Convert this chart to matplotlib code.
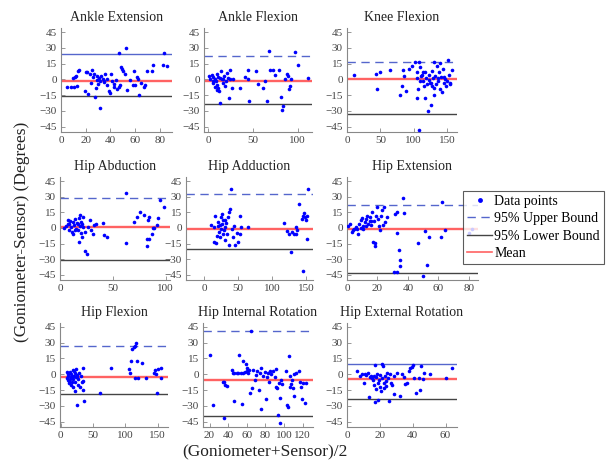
import matplotlib.pyplot as plt
from matplotlib.lines import Line2D

plt.rcParams['font.family'] = ['Liberation Serif', 'DejaVu Serif']

W, H = 611, 468

titles = ["Ankle Extension", "Ankle Flexion", "Knee Flexion",
          "Hip Abduction", "Hip Adduction", "Hip Extension",
          "Hip Flexion", "Hip Internal Rotation", "Hip External Rotation"]

# 95% upper bound, mean, 95% lower bound per panel
upper = [24.5, 22, 16.8, 28.5, 32.9, 22.2, 26.4, 41.3, 9.9]
mean = [-1, -1, 0.3, 1, -0.5, -0.6, -2.2, -5.9, -4.8]
lower = [-16, -23.2, -33, -30.4, -20.4, -43.1, -18.8, -39.4, -23.6]
upper_solid = [True, False, False, False, False, False, False, False, True]

ankle_ext_x = [5, 8, 10.5, 12.7, 10, 12, 13.7, 14.6, 11, 20, 21.3, 19.4, 21.8, 23.5, 25.3, 26.7,
               27.2, 28, 28.8, 29.4, 30.7, 31.5, 32, 32.6, 33.7, 34.8, 36, 37, 37.5, 38.8, 39.6,
               40.7, 41.5, 42.9, 44.2, 45, 46.9, 47.4, 48.2, 48.8, 49.6, 50.4, 51.5, 53.1, 53.6,
               55.8, 59, 60.4, 61.7, 62.3, 63, 67, 68.4, 69.8, 74.7, 73.9, 83.3, 82.7, 86,
               24, 26, 30, 35, 43, 58, 65]
ankle_ext_y = [-7, -7, -7, -6, 1.4, 3.6, 7.7, 8.7, 2, 6.8, 6.8, -11, -13.4, 5.5, 8.7, 5.5,
               -16.6, -8, 3.6, -0.2, 1.4, -27, -1.7, 3, 0, -1.7, 5.5, -5, 0, -11, -12.8,
               5.5, -1.7, -7, -0.8, -9, -7, 25.1, -5, 11.8, 10, 7.7, 5.5, 29.8, -9.6,
               -0.2, 7.7, -5, 2.3, 0.5, -14.4, -7, -5, 7.7, 14, 7.7, 25.1, 14, 12.5,
               -3, 2, -4, -2, -4, -5, -3]

ankle_flex_x = [1, 3.7, 5.6, 7.5, 8.6, 9.3, 10, 11.2, 12, 13, 13.8, 15, 16, 16.8, 17.5, 18.7,
                19.8, 20.5, 22, 23.5, 13, 24, 26, 24, 5.6, 7.5, 9.3, 11.2, 1.9, 4.9, 28, 35.4,
                41, 44.8, 45.9, 44.8, 53.4, 56, 61.6, 63.4, 65.3, 68.3, 69, 72.8, 74.6, 79.5,
                81, 82, 84, 85.8, 87.7, 89.6, 90.7, 91.4, 92.2, 97, 100.7, 112]
ankle_flex_y = [3.6, 4.6, 2.4, 0, -1.7, 5.5, -5, -8, -11, 1.4, 7.7, 0, -3.3, 0, 3.6, -6.5,
                -1.7, 6, 1.4, -17.5, -22.3, 0, -8, 8.7, -1.7, -7, -9.6, 2.3, 0.5, -3.3, 0, -8,
                2.3, 0, -20.7, 8.7, 7.7, -4, -8, -1.7, -20.7, 26.7, 8.7, 8.7, 4.6, 8.7,
                -16.6, -28.6, -24.8, 0.5, 5.5, 3.6, -9, -5.8, 0.5, 26, 14, 1.4]

knee_x = [10, 43.3, 44.3, 49.3, 64.4, 79.5, 82, 83.5, 85.5, 88.6, 93.7, 97.1, 102, 104.7, 105.7,
          107.2, 105.7, 108.7, 109.7, 109.7, 112.2, 113.7, 114.7, 115.7, 117.3, 118.8, 119.8,
          120.8, 122.3, 123.8, 125.8, 127.3, 128.8, 129.8, 129.8, 130.9, 132.4, 133.9, 134.9,
          135.9, 137.4, 138.9, 139.9, 140.9, 142.4, 143.9, 144.9, 145.9, 148.9, 151, 152.5,
          154, 155, 157.5, 108.7, 122.3, 127.3, 117.3, 111, 126, 136, 147, 150]
knee_y = [3.9, 5.2, -9.4, 7.1, 9.1, -14.9, -6.1, 9.1, 3.6, -11, 10, 13.3, 16.5, 1.3, 6.8,
          -9.4, -17.5, 16.5, -1.9, 11.7, 4.5, -1.3, 6.8, -6.1, -17.5, 1.3, -3.9,
          -30.4, 4.5, -2.9, -24.6, 8.4, 1.3, -14.9, -8.4, 16.5, 3.6, -3.9, 13.3,
          -1.3, 6.8, -9.4, 15.5, 1.9, -11.7, 10, -2.9, 2.6, -6.1, 18.8, 4.5,
          -2.9, -4.5, 9.1, -48.2, -0.6, -6.1, 6.8, 3, -3, 1, 0.5, -1]

hip_abd_x = [4, 5.7, 7.3, 8.3, 8.9, 10.5, 11.4, 12, 12.7, 13.7, 14.6, 15.2, 15.9, 16.8, 17.8,
             18.4, 19, 19.7, 20.3, 21, 21.6, 22.2, 23.2, 24, 25.4, 26.3, 27.9, 29.5, 31, 31.7,
             34.3, 40.6, 41.3, 44.4, 62.2, 62.2, 70.2, 73, 75.5, 79.4, 81.9, 82.5, 83.5, 84.4,
             86.7, 84.4, 87.6, 88.9, 91.4, 93, 94.6, 98.7, 9.8, 14, 17, 19.3, 21.2, 7.3]
hip_abd_y = [0, 1.6, 7.8, -1.6, 3.4, 0.9, -3.8, 5.6, -6, 2.5, 8.8, -0.6, 4.7, -2.2, -13.2,
             9.7, 1.6, -5.3, 5.6, -9.1, 11, 0.9, -3.8, -22.6, -24.8, 0.9, 7.8, -1.6, -6, 2.5,
             3.4, 4.7, -6.9, -9.1, 33.9, -14.1, 5.6, 11, 15, 12.9, -17.2, -11, 7.2, -11,
             -6, 11, 0.3, 0.3, 2.5, 9.7, 26.6, 20.4, 6.4, -1.6, 4, 12, 4, 3.4]

hip_add_x = [9.7, 13.5, 16, 17.4, 19.4, 20.8, 22.3, 23.2, 24.2, 25.2, 26.1, 27.1, 28.1, 29,
             30, 31, 31.9, 32.9, 34.3, 35.8, 36.8, 37.7, 38.7, 40.2, 41.6, 43.5, 45, 47.4,
             49.8, 52.2, 53.2, 54.7, 64.3, 13.5, 18, 23, 25.5, 30.4,
             117.6, 121, 124.8, 127.2, 129.7, 132, 134.5, 135.5, 137, 139.3, 143.2, 145,
             146.6, 148, 149, 151.4, 152.9, 151.4, 145]
hip_add_y = [2.5, -13.2, 11.9, -14.7, 1.6, 5.6, -3.8, -8.5, 10.3, -0.6, 3.4, -6, 7.2, -2.2,
             -11.6, 0.9, 4.7, -6, 10.3, -16.3, 15, 18.2, 37, -0.6, -8.5, 1.6, -16.3, -4.7,
             -13.2, 11.9, -6, 0.9, 0.9, 0.9, -7.5, 2.5, 13.5, 7.8,
             4.7, -2.8, -6, -23.5, -3.8, -6, 0.9, -6, -1.6, 22.9, 8.8, 11.9,
             14.1, 10.3, 7.8, 11.9, 37, -11, -41.4]

hip_ext_x = [0.5, 2, 3, 3.8, 4.6, 5.6, 7.1, 8.1, 8.9, 9.7, 10.2, 10.7, 11.5, 12.2, 13.2, 14,
             14.8, 15.3, 15.8, 16.5, 17.3, 17.8, 18.3, 18.3, 19.1, 19.8, 20.4, 20.9, 21.6,
             22.4, 22.9, 23.4, 24.2, 24.9, 26, 31.8, 32.6, 33.1, 34.4, 35.1, 35.1, 36.9,
             37.7, 31, 33.1, 46.3, 49.6, 50.9, 52.2, 53.9, 61.6, 62.3, 64.1, 80.2, 81.9,
             9, 12.5, 16, 6.5]
hip_ext_y = [1.6, 3.4, -3.8, -1.6, -0.6, 0.9, -6, 3.4, 7.2, 9.7, 1.6, -0.6, 5.6, 8.8, 11.9,
             4.1, 6.6, 10.3, 2.5, 15, -13.1, 6.6, -17.8, -14.7, 11.9, 20.3, 8.8, 1.6, -1.6,
             11.9, 17.2, 2.5, 20.3, 5.6, 10.3, 13.4, 15, -4.7, -21.6, -30.3, -36.6, 29,
             14.1, -42.2, -42.2, -14.7, -46, -2.8, -35.9, -8.4, -9.1, 25.3, -2.2, -5.3, -0.6,
             0, 1.5, 7, -1]

hip_flex_x = [9.2, 10.2, 11.8, 12.8, 13.3, 14.3, 15.4, 15.4, 16.4, 16.9, 18.4, 18.4, 19.5,
              20.5, 21.5, 22, 22.5, 23.6, 23.6, 24.6, 25.6, 26.6, 27.6, 28.7, 29.7, 30.7,
              32.3, 33.8, 34.8, 34.8, 35.8, 60.4, 78.3, 105.5, 106.6, 109.1, 110.7, 112.7,
              114.3, 115.7, 116.7, 117.8, 119.3, 126, 132.1, 144.9, 146.5, 147.5, 148.5,
              150, 155.1, 155.1, 11, 14, 17, 20, 26, 12]
hip_flex_y = [2.5, -3.8, 0.3, -8.6, -6, 2.5, -2.2, -10.2, 0.3, -7, 4.1, -4.8, -12.4,
              -1.6, 1.6, -15.6, -7, -2.9, 4.8, -29.3, -0.6, -10.2, -4.8, 1.6, -12.4, -1.6,
              -7, -15, 5.7, -6, -25.2, -18.2, 6, 4.8, 1.6, 12.1, 23.9, 25.8,
              -3.8, 26.4, 29.6, 13, -3.8, 11.1, -3.8, 1.6, 4.1, 0.3, -18.2,
              4.8, 5.7, -3.8, -1.5, -4.5, -2, 3, -3, -5]

hip_ir_x = [20, 23.5, 34.2, 35.6, 36.7, 35.6, 38.4, 43.8, 45.5, 46.2, 46.7, 49, 50.8, 51.9,
            53.3, 54.4, 55.5, 56.2, 58, 59, 59.7, 60.4, 61.5, 62.6, 63.3, 65, 66.1, 66.8,
            68.6, 69.6, 71, 73.2, 73.9, 75.7, 75.7, 77.4, 79.2, 80.3, 81.7, 82.8, 83.8,
            84.5, 86.3, 88.1, 89.9, 90.9, 91.6, 92.3, 93.4, 94.5, 95.2, 95.9, 97, 98,
            102.3, 103, 104, 105.1, 105.8, 106.5, 107.6, 108.7, 109.4, 110.1, 111.1,
            112.9, 115.7, 117.2, 118.2, 119.3, 120.7, 122.8, 123.5]
hip_ir_y = [18.6, -28.9, -7.8, -7.8, -10.2, -41.3, -11.5, 3.7, 1.6, -25.8, 1.6, 1.6, 1.6, 18,
            1.6, -28, 1.6, 12.4, 2.2, 9.3, 6.2, 3.1, 1.6, 4, -17.7, 41.3, -13.4, 4,
            -5.3, -0.9, 3.1, -14.6, 0.9, 6.2, -32.6, -1.6, 2.2, -23.9, -3.1, 1.6, -7.8,
            3.1, 0, 3.1, -3.1, -12.4, 4.7, -13.4, -38.8, -8.4, -46.6, -22.7, -5.3, -9.3,
            3.1, -29.5, -31.1, 17.1, -12.4, -1.6, -9.3, -5.3, -13.4, 0, -20.8,
            1.6, 3.1, -7.1, -12.4, -23.3, -8.4, -27, -8.4]

hip_er_x = [6.1, 7.7, 9.1, 10.2, 11.2, 11.8, 12.6, 13.2, 13.8, 14.6, 15.2, 15.9, 16.3, 16.7,
            17.1, 17.3, 17.5, 17.9, 18.3, 18.7, 19.1, 19.5, 19.9, 20.3, 20.7, 21.1, 21.5,
            22, 22.4, 22.8, 23.2, 23.6, 24, 24.4, 24.8, 25.4, 26, 26.8, 27.4, 28.5, 28.9,
            30.5, 32.1, 33.5, 34.6, 35.6, 36.6, 37.6, 38.6, 39.6, 40.2, 40.7, 42.3, 43.7,
            44.7, 45.1, 46.3, 47.2, 50.8, 60, 64]
hip_er_y = [3.2, -1.6, 0.3, -8, 0.3, -0.6, 1.6, -22, -2.2, -1.6, -3.8, -5.4, -10.2, -1.6,
            8.9, -26.1, -14.3, -2.9, 0.3, -24.5, -8.6, -5.4, -12.4, -0.6, -15.6, 9.9, -3.8,
            8, -8, -13.4, -1.6, -6, -11.1, 1.6, -3.8, -25.2, 0.3, -8, -10.2, -18.8, -1.6,
            1.6, -20.7, 0.3, -2.2, -9.2, -8.6, 3.5, 5.7, 7.3, 8.9, -3.8, -18.2, -3.8,
            -15, 8, -4.8, 1.6, 0.3, -3.8, 5.7]

xs = [ankle_ext_x, ankle_flex_x, knee_x, hip_abd_x, hip_add_x, hip_ext_x,
      hip_flex_x, hip_ir_x, hip_er_x]
ys = [ankle_ext_y, ankle_flex_y, knee_y, hip_abd_y, hip_add_y, hip_ext_y,
      hip_flex_y, hip_ir_y, hip_er_y]

xlims = [(0, 90), (-5, 116), (0, 165), (0, 104), (-27, 160), (0, 86),
         (-1, 166), (13, 131), (0, 67)]
xticks = [[0, 20, 40, 60, 80], [0, 50, 100], [0, 50, 100, 150],
          [0, 50, 100], [0, 50, 100, 150], [0, 20, 40, 60, 80],
          [0, 50, 100, 150], [20, 40, 60, 80, 100, 120], [0, 20, 40, 60]]
yticks = [-45, -30, -15, 0, 15, 30, 45]

# axes boxes in pixels: left, right, top, bottom
boxes = [(61, 172, 28, 132), (204, 312, 28, 132), (347, 457, 28, 132),
         (60, 170, 177, 280), (186, 313, 177, 280), (347, 478, 177, 280),
         (60, 168, 322.5, 427), (203, 313, 322.5, 427), (347, 457, 322.5, 427)]

c_pts = '#0000ff'
c_up = '#5566cc'
c_low = '#444444'
c_mean = '#ff6262'
c_axis = '#888888'

fig = plt.figure(figsize=(W / 100, H / 100), dpi=100)

for i in range(9):
    l, r, t, b = boxes[i]
    ax = fig.add_axes([l / W, 1 - b / H, (r - l) / W, (b - t) / H])
    ax.plot(xs[i], ys[i], 'o', color=c_pts, ms=2.6, mec='none', zorder=3)
    ax.axhline(mean[i], color=c_mean, lw=1.7, zorder=2)
    if upper_solid[i]:
        ax.axhline(upper[i], color=c_up, lw=1.0, zorder=2)
    else:
        ax.axhline(upper[i], color=c_up, lw=1.0, ls=(0, (6, 4)), zorder=2)
    ax.axhline(lower[i], color=c_low, lw=1.0, zorder=2)
    ax.set_xlim(*xlims[i])
    ax.set_ylim(-50, 49)
    ax.set_xticks(xticks[i])
    ax.set_yticks(yticks)
    ax.set_title(titles[i], fontsize=10, pad=5, color='#222222')
    for s in ['top', 'right']:
        ax.spines[s].set_visible(False)
    for s in ['left', 'bottom']:
        ax.spines[s].set_color(c_axis)
        ax.spines[s].set_linewidth(0.8)
    ax.tick_params(direction='in', length=3, width=0.6, color=c_axis,
                   labelsize=8, labelcolor='#444444', pad=3)
    ax.set_facecolor('none')

handles = [Line2D([], [], ls='none', marker='o', color=c_pts, ms=3.5, mec='none'),
           Line2D([], [], color=c_up, lw=1.0, ls=(0, (6, 4))),
           Line2D([], [], color=c_low, lw=1.0),
           Line2D([], [], color=c_mean, lw=1.2)]
labels = ['Data points', '95% Upper Bound', '95% Lower Bound', 'Mean']
leg = fig.legend(handles, labels, loc='upper left',
                 bbox_to_anchor=(463 / W, 1 - 190.5 / H), fontsize=10,
                 frameon=True, fancybox=False, edgecolor='#333333',
                 handlelength=1.8, handletextpad=0.15, borderpad=0.3,
                 labelspacing=0.32, borderaxespad=0)
leg.get_frame().set_linewidth(0.8)

fig.text(22 / W, 1 - 232 / H, '(Goniometer-Sensor) (Degrees)', rotation=90,
         ha='center', va='center', fontsize=12.5, color='#222222')
fig.text(265 / W, 1 - 452 / H, '(Goniometer+Sensor)/2', ha='center', va='center',
         fontsize=12.5, color='#222222')

fig.savefig('out.png', dpi=100)
